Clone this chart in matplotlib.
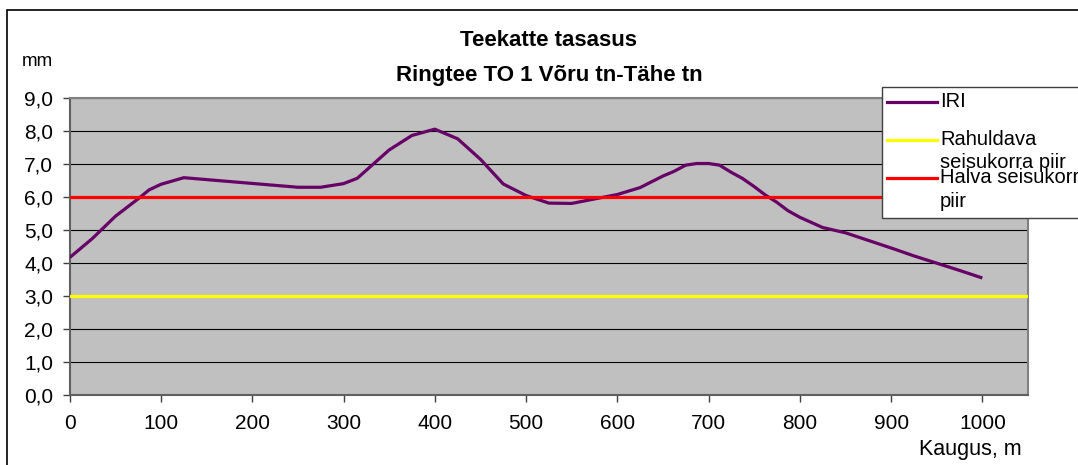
import matplotlib
matplotlib.use('Agg')
import matplotlib.pyplot as plt
import matplotlib.patches as patches
from matplotlib.lines import Line2D

plt.rcParams['font.family'] = ['Liberation Sans', 'DejaVu Sans']

# IRI measurements along the road section (distance in m, IRI in mm/m)
distance = [0, 25, 50, 75, 87, 100, 125, 250, 275, 300, 315, 350, 375, 400, 425,
            450, 475, 500, 525, 550, 600, 625, 650, 662, 675, 687, 700, 712, 725,
            737, 750, 762, 775, 787, 800, 825, 850, 875, 900, 925, 950, 975, 1000]
iri = [4.15, 4.73, 5.4, 5.93, 6.2, 6.37, 6.57, 6.28, 6.28, 6.39, 6.55, 7.41, 7.85,
       8.04, 7.75, 7.13, 6.38, 6.03, 5.8, 5.79, 6.06, 6.27, 6.62, 6.76, 6.95, 7.0,
       7.0, 6.95, 6.73, 6.55, 6.3, 6.05, 5.82, 5.57, 5.37, 5.06, 4.9, 4.67, 4.44,
       4.2, 3.98, 3.76, 3.53]

# Threshold lines
limit_x = [0, 1050]
satisfactory = [3.0, 3.0]
poor = [6.0, 6.0]

series_labels = ['IRI', 'Rahuldava\nseisukorra piir', 'Halva seisukorra\npiir']
series_colors = ['#660066', '#FFFF00', '#FF0000']

x_ticks = list(range(0, 1001, 100))
y_ticks = [i * 1.0 for i in range(10)]

W, H = 1078, 465
fig = plt.figure(figsize=(W / 100, H / 100), dpi=100)


def fx(px):
    return px / W


def fy(py):
    return 1 - py / H


# outer chart frame (runs off the right/bottom edge)
fig.add_artist(patches.Rectangle((fx(7), fy(480)), fx(1100) - fx(7), fy(10) - fy(480),
                                 transform=fig.transFigure, fill=False,
                                 edgecolor='black', linewidth=1.2))

left, right, top, bottom = 69.7, 1028, 97.5, 394.5
ax = fig.add_axes([fx(left), fy(bottom), fx(right) - fx(left), fy(top) - fy(bottom)])
ax.set_facecolor('#C0C0C0')

ax.plot(distance, iri, color=series_colors[0], linewidth=2.3, solid_capstyle='butt', zorder=3)
ax.plot(limit_x, satisfactory, color=series_colors[1], linewidth=2.3, zorder=4)
ax.plot(limit_x, poor, color=series_colors[2], linewidth=2.3, zorder=5)

ax.set_xlim(0, 1050)
ax.set_ylim(0, 9)
ax.set_xticks(x_ticks)
ax.set_yticks(y_ticks)
ax.set_yticklabels([f'{v:.1f}'.replace('.', ',') for v in y_ticks])
ax.yaxis.grid(True, color='black', linewidth=0.8)
ax.set_axisbelow(True)
ax.tick_params(axis='both', labelsize=15, length=5, width=1, color='#404040')
ax.tick_params(axis='x', pad=9)
ax.tick_params(axis='y', pad=7)
for side in ['top', 'right']:
    ax.spines[side].set_color('#808080')
    ax.spines[side].set_linewidth(1.5)
for side in ['left', 'bottom']:
    ax.spines[side].set_color('#606060')
    ax.spines[side].set_linewidth(1.5)

# titles and axis captions
fig.text(fx(549), fy(41), 'Teekatte tasasus', ha='center', va='center',
         fontsize=16, fontweight='bold')
fig.text(fx(549), fy(75), 'Ringtee TO 1 Võru tn-Tähe tn', ha='center', va='center',
         fontsize=16, fontweight='bold')
fig.text(fx(22), fy(61), 'mm', ha='left', va='center', fontsize=13.5)
fig.text(fx(1022), fy(449), 'Kaugus, m', ha='right', va='center', fontsize=15.5)

# legend box
fig.add_artist(patches.Rectangle((fx(882), fy(218)), fx(1100) - fx(882), fy(87) - fy(218),
                                 transform=fig.transFigure, facecolor='white',
                                 edgecolor='#404040', linewidth=1.0, zorder=10))
legend_rows = [102, 140, 178]
for label, color, row in zip(series_labels, series_colors, legend_rows):
    fig.add_artist(Line2D([fx(887), fx(937)], [fy(row), fy(row)], transform=fig.transFigure,
                          color=color, linewidth=2.3, zorder=11))
    fig.text(fx(940), fy(row - 10), label, ha='left', va='top', fontsize=14.5,
             linespacing=1.3, zorder=12)

plt.savefig('out.png', dpi=100)
